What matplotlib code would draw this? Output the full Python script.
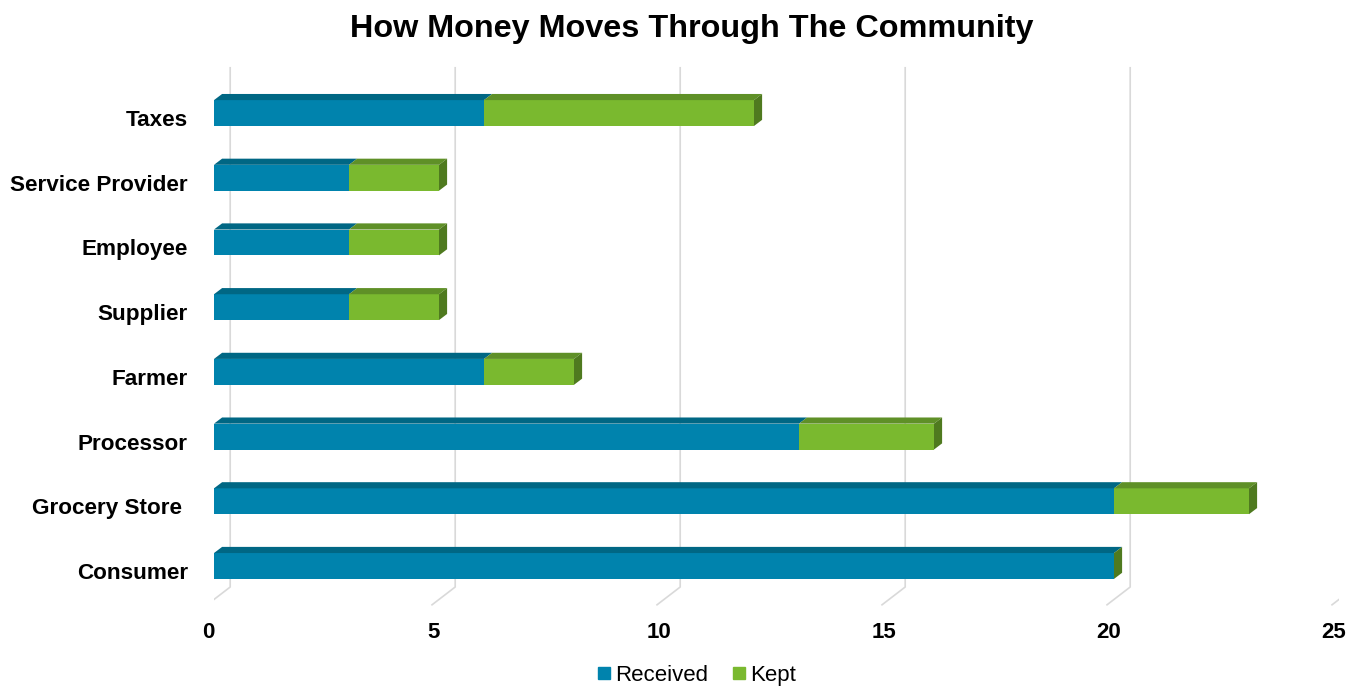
import numpy as np
import matplotlib.pyplot as plt
from matplotlib.patches import Polygon, Rectangle
from matplotlib.lines import Line2D

plt.rcParams['font.family'] = ['Liberation Sans', 'DejaVu Sans']

categories = ['Consumer', 'Grocery Store ', 'Processor', 'Farmer',
              'Supplier', 'Employee', 'Service Provider', 'Taxes']
received = [20, 20, 13, 6, 3, 3, 3, 6]
kept = [0, 3, 3, 2, 2, 2, 2, 6]
xticks = [0, 5, 10, 15, 20, 25]

# colours: front, top, side
rec_cols = ('#0083ad', '#006784', '#00556e')
kept_cols = ('#7ab92f', '#5f9027', '#4f7a1f')

# 3D depth offsets in data units
dx, dy = 0.18, 0.095
half = 0.2
grid_dx = 0.36

fig = plt.figure(figsize=(13.59, 6.86), dpi=100)
ax = fig.add_axes([214 / 1359, 46 / 686, 1125 / 1359, 580 / 686])
ax.set_xlim(0, 25)
ax.set_ylim(-1.144, 7.82)
ax.axis('off')

# grid lines on back wall + floor
for t in xticks:
    ax.plot([t + grid_dx, t + grid_dx, t - 0.155], [7.70, -0.325, -0.60],
            color='#d9d9d9', lw=1.2, zorder=1)
    ax.text(t - 0.12, -1.03, str(t), ha='center', va='center',
            fontsize=16, fontweight='bold', color='black')


def draw_seg(x0, x1, y, cols, side=True):
    front, top, sidec = cols
    if x1 > x0:
        ax.add_patch(Rectangle((x0, y - half), x1 - x0, 2 * half,
                               facecolor=front, edgecolor='none', zorder=3))
        ax.add_patch(Polygon([(x0, y + half), (x0 + dx, y + half + dy),
                              (x1 + dx, y + half + dy), (x1, y + half)],
                             facecolor=top, edgecolor='none', zorder=3))
    if side:
        ax.add_patch(Polygon([(x1, y - half), (x1 + dx, y - half + dy),
                              (x1 + dx, y + half + dy), (x1, y + half)],
                             facecolor=sidec, edgecolor='none', zorder=4))


for i, (cat, r, k) in enumerate(zip(categories, received, kept)):
    draw_seg(0, r, i, rec_cols, side=False)
    draw_seg(r, r + k, i, kept_cols, side=True)
    ax.text(-0.58, i - 0.115, cat, ha='right', va='center', fontsize=16.2,
            fontweight='bold', color='black')

fig.text(0.509, 0.958, 'How Money Moves Through The Community', ha='center',
         va='center', fontsize=23.3, fontweight='bold')

handles = [Line2D([], [], marker='s', ls='none', color=rec_cols[0], markersize=8.5),
           Line2D([], [], marker='s', ls='none', color=kept_cols[0], markersize=8.5)]
fig.legend(handles, ['Received', 'Kept'], loc='center', bbox_to_anchor=(0.51, 0.016),
           ncol=2, frameon=False, fontsize=16, handletextpad=-0.1, columnspacing=0.8,
           handlelength=1.2)

fig.savefig('out.png', dpi=100)
